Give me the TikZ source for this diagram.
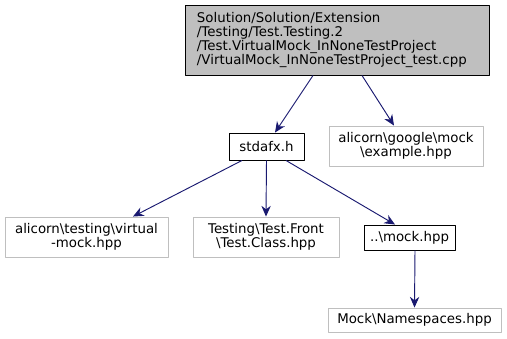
\documentclass[tikz,border=0pt]{standalone}
\usepackage{fontspec}
\setmainfont{DejaVu Sans}
\usetikzlibrary{arrows.meta,calc}
\definecolor{edgeblue}{HTML}{191970}
\definecolor{boxgray}{HTML}{BFBFBF}
\tikzset{
	file/.style={draw=boxgray, fill=white, line width=0.8pt, inner sep=0pt, align=center, font=\fontsize{11.4}{12}\selectfont},
	known/.style={file, draw=black},
	root/.style={known, fill=boxgray, align=left, inner xsep=0.36cm, text width=8.4cm},
	incl/.style={draw=edgeblue, line width=0.8pt, -{Stealth[length=3.2mm,width=2.8mm]}}
}
\begin{document}
\begin{tikzpicture}[x=0.03cm, y=-0.03cm, line join=round]
		\useasboundingbox (0,0) rectangle (507,339);
		\node[root, minimum height=70*0.03cm] (main) at (337,40)
			{Solution/Solution/Extension\\/Testing/Test.Testing.2\\/Test.VirtualMock\_InNoneTestProject\\/VirtualMock\_InNoneTestProject\_test.cpp};
		\node[known, minimum width=75*0.03cm, minimum height=27*0.03cm] (stdafx) at (266.5,146.5) {stdafx.h};
		\node[file, minimum width=154*0.03cm, minimum height=40*0.03cm] (example) at (406,146) {alicorn\textbackslash google\textbackslash mock\\\textbackslash example.hpp};
		\node[file, minimum width=163*0.03cm, minimum height=40*0.03cm] (virtual) at (86.5,237) {alicorn\textbackslash testing\textbackslash virtual\\-mock.hpp};
		\node[file, minimum width=146*0.03cm, minimum height=40*0.03cm] (class) at (266,237) {Testing\textbackslash Test.Front\\\textbackslash Test.Class.hpp};
		\node[known, minimum width=91*0.03cm, minimum height=25*0.03cm] (mock) at (409.5,237.5) {..\textbackslash mock.hpp};
		\node[file, minimum width=173*0.03cm, minimum height=24*0.03cm] (spaces) at (414.5,320) {Mock\textbackslash Namespaces.hpp};
		% include edges
		\draw[incl] ($(main.south)+(-24,0)$) -- ($(stdafx.north)+(8.5,0)$);
		\draw[incl] ($(main.south)+(25,0)$) -- ($(example.north)+(-12,0)$);
		\draw[incl] ($(stdafx.south)+(-24.5,0)$) -- ($(virtual.north)+(46.5,0)$);
		\draw[incl] (stdafx.south) -- (class.north);
		\draw[incl] ($(stdafx.south)+(19.5,0)$) -- ($(mock.north)+(-14.5,0)$);
		\draw[incl] ($(mock.south)+(5.5,0)$) -- (spaces.north);
\end{tikzpicture}
\end{document}
